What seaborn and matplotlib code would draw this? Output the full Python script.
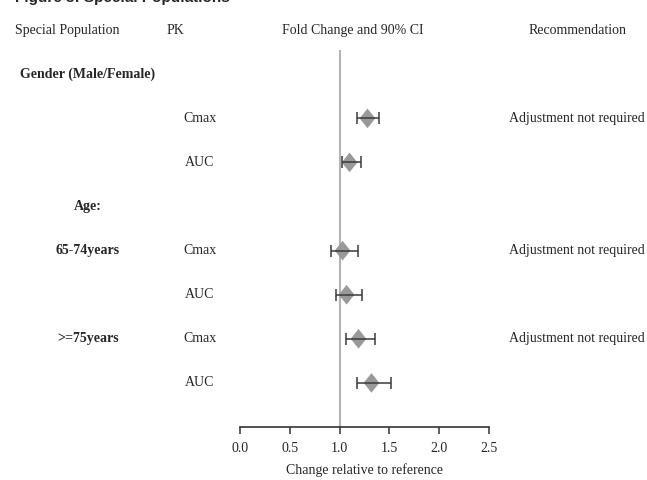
import numpy as np
import pandas as pd
import matplotlib
matplotlib.use("Agg")
import matplotlib.pyplot as plt
import matplotlib.transforms as transforms
import seaborn as sns

# data
groups = ["Gender (Male/Female)", "Gender (Male/Female)",
          "65-74years", "65-74years", ">=75years", ">=75years"]
pk = ["Cmax", "AUC", "Cmax", "AUC", "Cmax", "AUC"]
fold = [1.28, 1.10, 1.03, 1.07, 1.19, 1.32]
ci_low = [1.17, 1.02, 0.91, 0.96, 1.06, 1.17]
ci_high = [1.40, 1.21, 1.18, 1.22, 1.36, 1.52]
recommendation = ["Adjustment not required", "", "Adjustment not required", "",
                  "Adjustment not required", ""]
headers = ["Special Population", "PK", "Fold Change and 90% CI", "Recommendation"]
x_ticks = [0.0, 0.5, 1.0, 1.5, 2.0, 2.5]

# row layout (row 0 = header line)
row_pos = [2, 3, 5, 6, 7, 8]
section_labels = {1: "Gender (Male/Female)", 4: "Age:", 5: "65-74years", 7: ">=75years"}

df = pd.DataFrame({"group": groups, "pk": pk, "fold": fold,
                   "lo": ci_low, "hi": ci_high, "row": row_pos})

sns.set_theme(style="white")
plt.rcParams['font.family'] = ['Liberation Serif', 'DejaVu Serif']

W, H = 647, 480
fig = plt.figure(figsize=(W / 100, H / 100), dpi=100)
ax = fig.add_axes([240 / W, 1 - 427 / H, 249 / W, (427 - 50) / H])

# reference line at 1
ax.axvline(1.0, color="#b4b4b4", lw=1.5, zorder=1)

# slightly squat diamond shape
diamond = [(0, 1), (0.8, 0), (0, -1), (-0.8, 0), (0, 1)]
sns.scatterplot(data=df, x="fold", y="row", marker=diamond, s=200,
                color="#999999", edgecolor="none", ax=ax, zorder=3, legend=False)
ax.errorbar(df["fold"], df["row"],
            xerr=[df["fold"] - df["lo"], df["hi"] - df["fold"]],
            fmt="none", ecolor="#3a3a3a", elinewidth=1.1, capsize=4.5, capthick=1.1, zorder=4)

ax.set_xlim(0, 2.5)
ax.set_ylim(9.0, 0.45)
ax.set_xticks(x_ticks)
ax.set_xticklabels([f"{t:.1f}" for t in x_ticks], fontsize=10)
ax.set_yticks([])
ax.set_xlabel("Change relative to reference", fontsize=10, labelpad=6)
ax.set_ylabel("")
for s in ["top", "left", "right"]:
    ax.spines[s].set_visible(False)
ax.spines["bottom"].set_color("#333333")
ax.spines["bottom"].set_linewidth(1.2)
ax.tick_params(axis="x", direction="out", length=5, width=1.1, color="#333333",
               bottom=True, pad=6)

# table text
trans = transforms.blended_transform_factory(fig.transFigure, ax.transData)
hdr_x = [67, 175, 353, 578]
for h, hx in zip(headers, hdr_x):
    ax.text(hx / W, 0, h, transform=trans, ha="center", va="center",
            fontsize=10, clip_on=False)

for r, lab in section_labels.items():
    ax.text(88 / W, r, lab, transform=trans, ha="center", va="center",
            fontsize=10, fontweight="bold", clip_on=False)

for r, p, rec in zip(row_pos, pk, recommendation):
    ax.text(200 / W, r, p, transform=trans, ha="center", va="center",
            fontsize=10, clip_on=False)
    if rec:
        ax.text(577 / W, r, rec, transform=trans, ha="center", va="center",
                fontsize=10, clip_on=False)

# figure caption, cut off at the top edge in the reference
fig.text(15 / W, 1 - 2 / H, "Figure 3: Special Populations", ha="left", va="baseline",
         fontsize=11, fontweight="bold", family=["Liberation Sans", "DejaVu Sans"])

fig.savefig("out.png", dpi=100)
